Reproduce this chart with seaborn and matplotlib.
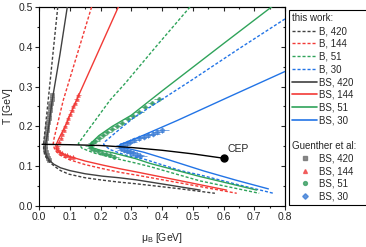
import matplotlib
matplotlib.use('Agg')
from matplotlib import pyplot as plt
from matplotlib.lines import Line2D
from matplotlib.ticker import MultipleLocator
import pandas as pd
import seaborn as sns

# ---- this work: lines of constant s/n_B (mu_B, T in GeV) ----
b420_mu = [0.061, 0.045, 0.030, 0.021, 0.016, 0.015, 0.018, 0.025, 0.035, 0.050, 0.070, 0.097, 0.150, 0.206, 0.260, 0.314, 0.450, 0.572]
b420_T = [0.500, 0.380, 0.266, 0.200, 0.165, 0.145, 0.130, 0.120, 0.110, 0.100, 0.089, 0.080, 0.071, 0.065, 0.060, 0.056, 0.044, 0.032]
b144_mu = [0.171, 0.125, 0.079, 0.059, 0.049, 0.046, 0.052, 0.068, 0.100, 0.150, 0.206, 0.260, 0.314, 0.480, 0.643]
b144_T = [0.500, 0.383, 0.266, 0.202, 0.170, 0.155, 0.140, 0.128, 0.116, 0.104, 0.094, 0.085, 0.078, 0.055, 0.032]
b51_mu = [0.491, 0.380, 0.280, 0.231, 0.180, 0.140, 0.128, 0.140, 0.180, 0.240, 0.314, 0.361, 0.524, 0.716]
b51_T = [0.500, 0.400, 0.308, 0.266, 0.212, 0.170, 0.157, 0.145, 0.133, 0.121, 0.108, 0.099, 0.063, 0.032]
b30_mu = [0.800, 0.650, 0.500, 0.400, 0.308, 0.250, 0.215, 0.210, 0.230, 0.280, 0.341, 0.460, 0.524, 0.640, 0.762]
b30_T = [0.470, 0.395, 0.318, 0.268, 0.222, 0.185, 0.162, 0.155, 0.142, 0.128, 0.118, 0.089, 0.078, 0.055, 0.032]

bs420_mu = [0.092, 0.068, 0.043, 0.032, 0.024, 0.020, 0.021, 0.026, 0.035, 0.048, 0.070, 0.100, 0.150, 0.206, 0.260, 0.314, 0.420, 0.524]
bs420_T = [0.500, 0.380, 0.266, 0.202, 0.165, 0.148, 0.135, 0.124, 0.114, 0.105, 0.096, 0.089, 0.081, 0.075, 0.071, 0.066, 0.053, 0.040]
bs144_mu = [0.258, 0.190, 0.122, 0.086, 0.065, 0.055, 0.056, 0.068, 0.097, 0.150, 0.206, 0.260, 0.314, 0.450, 0.610]
bs144_T = [0.500, 0.383, 0.266, 0.202, 0.170, 0.153, 0.143, 0.134, 0.125, 0.113, 0.103, 0.094, 0.086, 0.065, 0.040]
bs51_mu = [0.800, 0.600, 0.400, 0.300, 0.238, 0.195, 0.168, 0.175, 0.200, 0.238, 0.314, 0.361, 0.524, 0.708]
bs51_T = [0.526, 0.408, 0.289, 0.228, 0.200, 0.177, 0.157, 0.146, 0.140, 0.134, 0.119, 0.107, 0.074, 0.040]
bs30_mu = [0.800, 0.620, 0.450, 0.340, 0.290, 0.265, 0.262, 0.280, 0.341, 0.426, 0.536, 0.640, 0.746]
bs30_T = [0.338, 0.275, 0.215, 0.178, 0.162, 0.155, 0.150, 0.146, 0.135, 0.115, 0.088, 0.065, 0.043]

# crossover line ending at the CEP
cross_mu = [0.010, 0.100, 0.200, 0.300, 0.400, 0.500, 0.600]
cross_T = [0.155, 0.154, 0.152, 0.147, 0.140, 0.131, 0.120]
cep_mu = 0.600
cep_T = 0.120

# ---- Guenther et al. (lattice) ----
g420_mu = [0.043, 0.041, 0.039, 0.037, 0.035, 0.033, 0.031, 0.029, 0.027, 0.025, 0.024, 0.022, 0.021, 0.020, 0.020, 0.022, 0.025, 0.029, 0.034]
g420_T = [0.280, 0.270, 0.260, 0.250, 0.240, 0.230, 0.220, 0.210, 0.200, 0.190, 0.180, 0.170, 0.160, 0.150, 0.142, 0.135, 0.128, 0.121, 0.115]
g144_mu = [0.128, 0.122, 0.117, 0.111, 0.106, 0.100, 0.095, 0.090, 0.085, 0.080, 0.075, 0.070, 0.065, 0.060, 0.058, 0.062, 0.068, 0.075, 0.083, 0.092, 0.102, 0.110]
g144_T = [0.280, 0.270, 0.260, 0.250, 0.240, 0.230, 0.220, 0.210, 0.200, 0.190, 0.180, 0.170, 0.160, 0.152, 0.145, 0.140, 0.136, 0.132, 0.129, 0.127, 0.124, 0.122]
g51_mu = [0.389, 0.368, 0.346, 0.326, 0.306, 0.288, 0.270, 0.253, 0.237, 0.222, 0.208, 0.195, 0.183, 0.172, 0.165, 0.170, 0.180, 0.192, 0.205, 0.218, 0.232, 0.245]
g51_T = [0.269, 0.258, 0.248, 0.237, 0.227, 0.218, 0.209, 0.200, 0.193, 0.186, 0.178, 0.171, 0.164, 0.158, 0.152, 0.146, 0.141, 0.137, 0.133, 0.130, 0.127, 0.124]
g30_mu = [0.400, 0.385, 0.370, 0.355, 0.340, 0.325, 0.310, 0.297, 0.285, 0.274, 0.265, 0.268, 0.276, 0.286, 0.296, 0.306, 0.318, 0.330]
g30_T = [0.190, 0.186, 0.182, 0.178, 0.174, 0.170, 0.166, 0.162, 0.158, 0.154, 0.150, 0.145, 0.141, 0.138, 0.135, 0.132, 0.129, 0.126]
g_xerr = {'420': 0.004, '144': 0.007, '51': 0.014, '30': 0.022}
g_yerr = {'420': 0.004, '144': 0.005, '51': 0.005, '30': 0.006}

labels = ['420', '144', '51', '30']
line_colors = ['#404040', '#f23a36', '#2fa35a', '#2274e6']
mark_colors = ['#707070', '#f04848', '#3a9e63', '#3f7fd6']
markers = ['s', '^', 'o', 'D']

sns.set_theme(style='ticks')
plt.rcParams['font.family'] = ['Liberation Sans', 'DejaVu Sans']
plt.rcParams['axes.linewidth'] = 0.8

fig = plt.figure(figsize=(3.66, 2.47), dpi=100)
ax = fig.add_axes([39 / 366, 1 - 206 / 247, 246 / 366, 199 / 247])

b_curves = [(b420_mu, b420_T), (b144_mu, b144_T), (b51_mu, b51_T), (b30_mu, b30_T)]
bs_curves = [(bs420_mu, bs420_T), (bs144_mu, bs144_T), (bs51_mu, bs51_T), (bs30_mu, bs30_T)]
g_data = [(g420_mu, g420_T), (g144_mu, g144_T), (g51_mu, g51_T), (g30_mu, g30_T)]

# lattice points first, lines on top
for lab, (mu, T), col, mk in zip(labels, g_data, mark_colors, markers):
    ax.errorbar(mu, T, xerr=g_xerr[lab], yerr=g_yerr[lab], fmt='none',
                ecolor=col, elinewidth=0.6, alpha=0.8, zorder=2)
    df = pd.DataFrame({'mu': mu, 'T': T})
    sns.scatterplot(data=df, x='mu', y='T', marker=mk, color=col, s=7,
                    edgecolor=col, linewidth=0.5, alpha=0.8, ax=ax, zorder=2, legend=False)

for (mu, T), col in zip(b_curves, line_colors):
    df = pd.DataFrame({'mu': mu, 'T': T})
    sns.lineplot(data=df, x='mu', y='T', sort=False, estimator=None, color=col,
                 lw=1.0, linestyle=(0, (2.2, 1.4)), ax=ax, zorder=3)

for (mu, T), col in zip(bs_curves, line_colors):
    df = pd.DataFrame({'mu': mu, 'T': T})
    sns.lineplot(data=df, x='mu', y='T', sort=False, estimator=None, color=col,
                 lw=1.0, ax=ax, zorder=3)

sns.lineplot(x=cross_mu, y=cross_T, sort=False, estimator=None, color='black', lw=1.0, ax=ax, zorder=4)
ax.plot([cep_mu], [cep_T], 'o', color='black', ms=5, zorder=5)
ax.text(cep_mu + 0.012, cep_T + 0.01, 'CEP', fontsize=7.5, ha='left', va='bottom')

ax.set_xlim(0, 0.8)
ax.set_ylim(0, 0.5)
ax.xaxis.set_major_locator(MultipleLocator(0.1))
ax.xaxis.set_minor_locator(MultipleLocator(0.05))
ax.yaxis.set_major_locator(MultipleLocator(0.1))
ax.yaxis.set_minor_locator(MultipleLocator(0.05))
ax.xaxis.set_major_formatter('{x:.1f}')
ax.yaxis.set_major_formatter('{x:.1f}')
ax.tick_params(which='major', direction='out', length=3, width=0.8, labelsize=7.5, pad=1.5)
ax.tick_params(which='minor', direction='out', length=1.5, width=0.8)
for s in ax.spines.values():
    s.set_visible(True)
    s.set_color('black')

# mirrored ticks on top and right
secx = ax.secondary_xaxis('top')
secy = ax.secondary_yaxis('right')
for sec in (secx, secy):
    sec.tick_params(which='major', direction='in', length=3, width=0.8)
    sec.tick_params(which='minor', direction='in', length=1.5, width=0.8)
secx.xaxis.set_major_locator(MultipleLocator(0.1))
secx.xaxis.set_minor_locator(MultipleLocator(0.05))
secy.yaxis.set_major_locator(MultipleLocator(0.1))
secy.yaxis.set_minor_locator(MultipleLocator(0.05))
secx.set_xticklabels([])
secy.set_yticklabels([])

ax.set_xlabel('μ$_\\mathregular{B}$ [GeV]', fontsize=7.5, labelpad=6)
ax.set_ylabel('T [GeV]', fontsize=7.5, labelpad=4)

# legend: two groups in one frame
blank = Line2D([], [], color='none')
handles = [blank]
texts = ['this work:']
for col, lab in zip(line_colors, labels):
    handles.append(Line2D([], [], color=col, lw=1.0, linestyle=(0, (2.2, 1.4))))
    texts.append('B, ' + lab)
for col, lab in zip(line_colors, labels):
    handles.append(Line2D([], [], color=col, lw=1.2))
    texts.append('BS, ' + lab)
handles += [blank, blank]
texts += [' ', 'Guenther et al:']
for col, lab, mk in zip(mark_colors, labels, markers):
    handles.append(Line2D([], [], color=col, marker=mk, linestyle='none', ms=2.8, alpha=0.8))
    texts.append('BS, ' + lab)

leg = ax.legend(handles, texts, loc='upper left', mode='expand',
                bbox_to_anchor=(289 / 366, 47 / 247, 84 / 366, 190 / 247),
                bbox_transform=fig.transFigure, borderaxespad=0,
                fontsize=7, frameon=True, fancybox=False, edgecolor='black',
                framealpha=1, borderpad=0.35, labelspacing=0.28,
                handlelength=2.5, handletextpad=0.2)
leg.get_frame().set_linewidth(0.8)
rows = leg._legend_handle_box.get_children()[0].get_children()
for i in (0, 9, 10):
    rows[i].get_children()[0].width = 0
    rows[i].sep = 0

fig.savefig('out.png', dpi=100)
